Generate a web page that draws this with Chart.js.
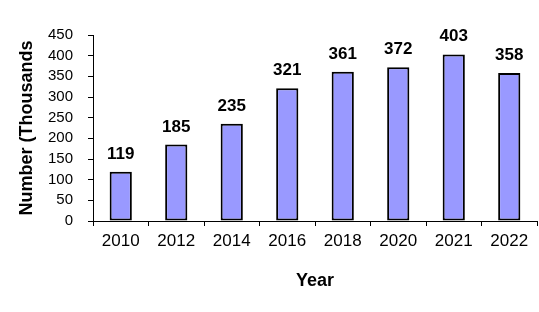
<!DOCTYPE html>
<html>
<head>
<meta charset="utf-8">
<script src="https://cdn.jsdelivr.net/npm/chart.js@4/dist/chart.umd.min.js"></script>
<style>
  html, body { margin: 0; padding: 0; background: #fff; }
  #wrap { width: 539px; height: 312px; }
</style>
</head>
<body>
<div id="wrap"><canvas id="chart" width="539" height="312"></canvas></div>
<script>
// 연도별 수치 (천 단위) — 막대 위 라벨과 동일
const YEARS = ["2010", "2012", "2014", "2016", "2018", "2020", "2021", "2022"];
const VALUES = [119, 185, 235, 321, 361, 372, 403, 358];
const Y_MAX = 450;
const Y_STEP = 50;

const BAR_FILL = "#9999ff";
const INK = "#000000";

Chart.defaults.font.family = '"Liberation Sans", Arial, sans-serif';
Chart.defaults.color = INK;

// 막대 위 값 라벨
const valueLabels = {
  id: "valueLabels",
  afterDatasetsDraw(chart) {
    const { ctx } = chart;
    const meta = chart.getDatasetMeta(0);
    ctx.save();
    ctx.font = 'bold 17px "Liberation Sans", Arial, sans-serif';
    ctx.fillStyle = INK;
    ctx.textAlign = "center";
    ctx.textBaseline = "alphabetic";
    meta.data.forEach((bar, i) => {
      ctx.fillText(String(VALUES[i]), bar.x, bar.y - 13);
    });
    ctx.restore();
  },
};

new Chart(document.getElementById("chart"), {
  type: "bar",
  data: {
    labels: YEARS,
    datasets: [{
      data: VALUES,
      backgroundColor: BAR_FILL,
      borderColor: INK,
      borderWidth: 2,
      borderSkipped: false,
      categoryPercentage: 1,
      barPercentage: 0.4,
    }],
  },
  options: {
    responsive: false,
    animation: false,
    layout: { padding: { top: 35, right: 2, left: 0, bottom: 0 } },
    plugins: {
      legend: { display: false },
      tooltip: { enabled: false },
    },
    scales: {
      x: {
        afterFit: (s) => { s.height = 91; },
        grid: { display: true, drawOnChartArea: false, color: INK, tickLength: 5 },
        border: { display: true, color: INK, width: 1 },
        ticks: { font: { size: 17 }, padding: 5, maxRotation: 0, autoSkip: false, color: INK },
        title: {
          display: true,
          text: "Year",
          font: { size: 18, weight: "bold" },
          padding: { top: 0, bottom: 20 },
          color: INK,
        },
      },
      y: {
        min: 0,
        max: Y_MAX,
        afterFit: (s) => { s.width = 93; },
        grid: { display: true, drawOnChartArea: false, color: INK, tickLength: 5 },
        border: { display: true, color: INK, width: 1 },
        ticks: { stepSize: Y_STEP, font: { size: 15 }, padding: 15, autoSkip: false, color: INK },
        title: {
          display: true,
          text: "Number (Thousands",
          font: { size: 18, weight: "bold" },
          padding: { top: 16, bottom: 0 },
          color: INK,
        },
      },
    },
  },
  plugins: [valueLabels],
});
</script>
</body>
</html>
